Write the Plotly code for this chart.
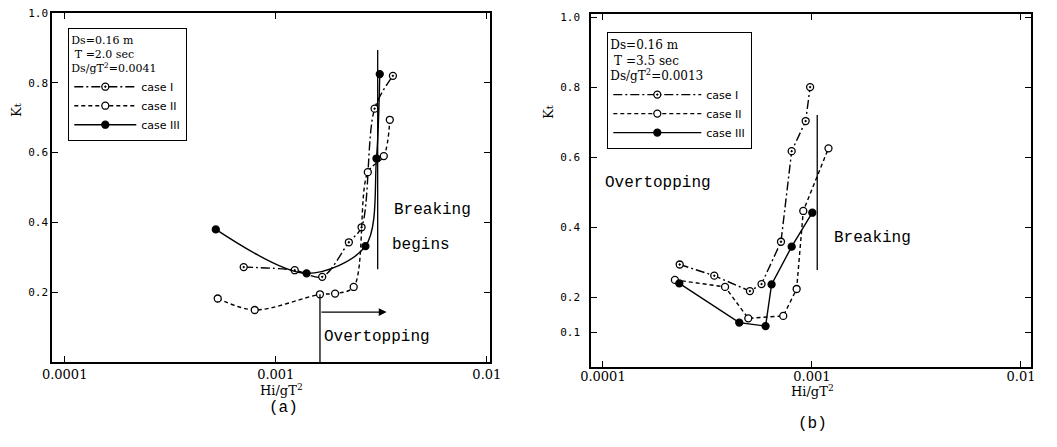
import math
import plotly.graph_objects as go

# ---------------- data: panel (a) ----------------
a_case1_x = [0.000705, 0.00123, 0.00166, 0.00222, 0.00255, 0.00294, 0.00359]
a_case1_y = [0.272, 0.263, 0.244, 0.343, 0.386, 0.726, 0.82]
a_case2_x = [0.000531, 0.000795, 0.00162, 0.00191, 0.00234, 0.00273, 0.00325, 0.00347]
a_case2_y = [0.182, 0.149, 0.194, 0.196, 0.215, 0.544, 0.59, 0.694]
a_case3_x = [0.000520, 0.00140, 0.00266, 0.00300, 0.00311]
a_case3_y = [0.38, 0.254, 0.332, 0.583, 0.825]

# ---------------- data: panel (b) ----------------
b_case1_x = [0.000233, 0.000341, 0.000505, 0.000574, 0.000711, 0.000800, 0.000933, 0.00098]
b_case1_y = [0.293, 0.261, 0.217, 0.237, 0.358, 0.617, 0.703, 0.80]
b_case2_x = [0.000221, 0.000384, 0.000496, 0.000729, 0.000845, 0.000909, 0.00120]
b_case2_y = [0.249, 0.229, 0.139, 0.146, 0.223, 0.446, 0.625]
b_case3_x = [0.000232, 0.000449, 0.000600, 0.000641, 0.000800, 0.001004]
b_case3_y = [0.239, 0.127, 0.117, 0.236, 0.344, 0.441]

# reference lines
a_break_x = [0.00304, 0.00304]
a_break_y = [0.894, 0.266]
a_over_x = [0.00162, 0.00162]
a_over_y = [0.194, 0.0]
a_arrow_x = [0.00162, 0.00335]
a_arrow_y = 0.143
b_break_x = [0.00106, 0.00106]
b_break_y = [0.72, 0.277]

x_ticks = [0.0001, 0.001, 0.01]
x_tick_text = ["0.0001", "0.001", "0.01"]
a_y_ticks = [0.2, 0.4, 0.6, 0.8, 1.0]
b_y_ticks = [0.1, 0.2, 0.4, 0.6, 0.8, 1.0]

case_names = ["case I", "case II", "case III"]

W, H = 1057, 447
OFF = 8  # page body margin


def X(p):
    return (p - OFF) / W


def Y(p):
    return 1 - (p - OFF) / H


fig = go.Figure()

styles = [
    dict(dash="9px,3px,2px,3px", symbol="circle-dot", fill="white"),
    dict(dash="4px,3px", symbol="circle", fill="white"),
    dict(dash="solid", symbol="circle", fill="black"),
]


def add_case(xs, ys, i, xa, ya, legend, shape):
    st = styles[i]
    fig.add_trace(go.Scatter(
        x=xs, y=ys, mode="lines+markers", name=case_names[i],
        xaxis=xa, yaxis=ya, legend=legend,
        line=dict(color="black", width=1.4, dash=st["dash"], shape=shape, smoothing=0.9),
        marker=dict(symbol=st["symbol"], size=7, color=st["fill"],
                    line=dict(color="black", width=1.3)),
    ))


add_case(a_case1_x, a_case1_y, 0, "x", "y", "legend", "spline")
add_case(a_case2_x, a_case2_y, 1, "x", "y", "legend", "spline")
add_case(a_case3_x, a_case3_y, 2, "x", "y", "legend", "spline")
add_case(b_case1_x, b_case1_y, 0, "x2", "y2", "legend2", "linear")
add_case(b_case2_x, b_case2_y, 1, "x2", "y2", "legend2", "linear")
add_case(b_case3_x, b_case3_y, 2, "x2", "y2", "legend2", "linear")


def add_ref(xs, ys, xa, ya):
    fig.add_trace(go.Scatter(x=xs, y=ys, mode="lines", xaxis=xa, yaxis=ya,
                             showlegend=False, hoverinfo="skip",
                             line=dict(color="black", width=1.3)))


add_ref(a_break_x, a_break_y, "x", "y")
add_ref(a_over_x, a_over_y, "x", "y")
add_ref(b_break_x, b_break_y, "x2", "y2")

fig.add_annotation(x=math.log10(a_arrow_x[1]), y=a_arrow_y,
                   ax=math.log10(a_arrow_x[0]), ay=a_arrow_y,
                   xref="x", yref="y", axref="x", ayref="y",
                   showarrow=True, arrowhead=2, arrowsize=1.2, arrowwidth=1.3,
                   arrowcolor="black", text="")

mono = dict(family="Liberation Mono", size=16, color="black")
serif = dict(family="DejaVu Serif", size=13, color="black")

texts = [
    ("Breaking", 432, 210, mono, 0),
    ("begins", 421, 245, mono, 0),
    ("Overtopping", 377, 337, mono, 0),
    ("Overtopping", 658, 183, mono, 0),
    ("Breaking", 872, 238, mono, 0),
    ("Hi/gT<sup>2</sup>", 281, 390, serif, 0),
    ("Hi/gT<sup>2</sup>", 812, 391, serif, 0),
    ("(a)", 283, 408, dict(family="Liberation Mono", size=16, color="black"), 0),
    ("(b)", 812, 424, dict(family="Liberation Mono", size=16, color="black"), 0),
    ("K<span style='font-size:10px'>t</span>", 16, 110, serif, -90),
    ("K<span style='font-size:10px'>t</span>", 549, 112, serif, -90),
]
for t, x, y, f, ang in texts:
    fig.add_annotation(x=X(x), y=Y(y), xref="paper", yref="paper",
                       text=t, showarrow=False, font=f, textangle=ang,
                       xanchor="center", yanchor="middle")

axis_common = dict(showline=True, linecolor="black", linewidth=1.5, mirror="ticks",
                   ticks="inside", ticklen=6, tickcolor="black", showgrid=False,
                   zeroline=False, automargin=False, ticklabeloverflow="allow")
tickfont_x = dict(family="DejaVu Serif", size=13, color="black")
tickfont_y = dict(family="DejaVu Sans Mono", size=11, color="black")

fig.update_layout(
    template="none",
    width=W, height=H,
    margin=dict(l=0, r=0, t=0, b=0, pad=0),
    paper_bgcolor="white", plot_bgcolor="white",
    xaxis=dict(type="log", range=[-4.06, -1.985], domain=[X(52), X(490)],
               tickvals=x_ticks, ticktext=x_tick_text, anchor="y",
               tickfont=tickfont_x, **axis_common),
    yaxis=dict(range=[0.0, 1.0], domain=[Y(362), Y(13)],
               tickvals=a_y_ticks, tickformat=".1f", anchor="x",
               tickfont=tickfont_y, **axis_common),
    xaxis2=dict(type="log", range=[-4.057, -1.952], domain=[X(591), X(1031)],
                tickvals=x_ticks, ticktext=x_tick_text, anchor="y2",
                tickfont=tickfont_x, ticklabelstandoff=-3, **axis_common),
    yaxis2=dict(range=[0.0, 1.009], domain=[Y(367), Y(14)],
                tickvals=b_y_ticks, tickformat=".1f", anchor="x2",
                tickfont=tickfont_y, ticklabelstandoff=7, **axis_common),
    legend=dict(x=X(68), y=Y(28), xanchor="left", yanchor="top",
                bgcolor="white", bordercolor="black", borderwidth=1.3,
                font=dict(family="DejaVu Sans", size=11, color="black"),
                title=dict(text="Ds=0.16 m<br> T =2.0 sec<br>Ds/gT<sup>2</sup>=0.0041",
                           font=dict(family="DejaVu Serif", size=11, color="black")),
                itemwidth=62, tracegroupgap=0),
    legend2=dict(x=X(607), y=Y(32), xanchor="left", yanchor="top",
                 bgcolor="white", bordercolor="black", borderwidth=1.3,
                 font=dict(family="DejaVu Sans", size=11, color="black"),
                 title=dict(text="Ds=0.16 m<br> T =3.5 sec<br>Ds/gT<sup>2</sup>=0.0013",
                            font=dict(family="DejaVu Serif", size=12, color="black")),
                 itemwidth=88, tracegroupgap=0),
)

fig.write_html("out.html")
